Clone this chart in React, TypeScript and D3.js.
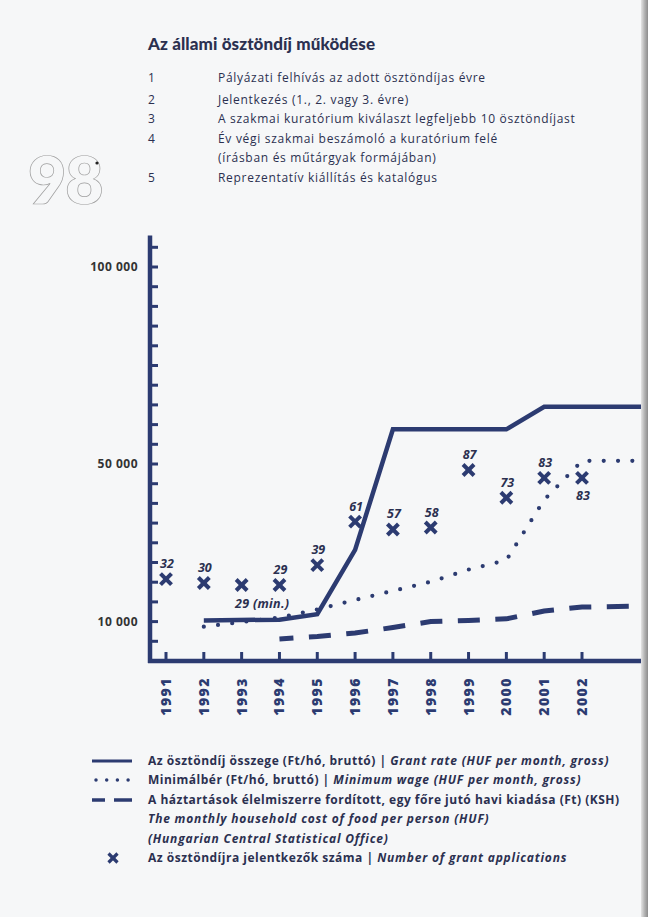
import React from 'react';
import * as d3 from 'd3';

const NAVY = '#2c3b71';
const TEXT = '#2b3050';
const FONT = '"Open Sans", Lato, sans-serif';

const title = 'Az állami ösztöndíj működése';
const steps = [
  ['1', 'Pályázati felhívás az adott ösztöndíjas évre'],
  ['2', 'Jelentkezés (1., 2. vagy 3. évre)'],
  ['3', 'A szakmai kuratórium kiválaszt legfeljebb 10 ösztöndíjast'],
  ['4', 'Év végi szakmai beszámoló a kuratórium felé'],
  ['', '(írásban és műtárgyak formájában)'],
  ['5', 'Reprezentatív kiállítás és katalógus'],
];

const years = [1991, 1992, 1993, 1994, 1995, 1996, 1997, 1998, 1999, 2000, 2001, 2002];
const yTickLabels = [10000, 50000, 100000];

const grantYears = [1992, 1994, 1995, 1996, 1997, 2000, 2001, 2004];
const grantValues = [10300, 10500, 11900, 28200, 58800, 58800, 64500, 64500];

const wageYears = [1992, 1993, 1994, 1995, 1996, 1997, 1998, 1999, 2000, 2001, 2002, 2004];
const wageValues = [8700, 9900, 11000, 13100, 15500, 17800, 20100, 23200, 25600, 40900, 50800, 50800];

const foodYears = [1994, 1995, 1996, 1997, 1998, 1999, 2000, 2001, 2002, 2004];
const foodValues = [5600, 6200, 7100, 8500, 10000, 10300, 10700, 12700, 13700, 14000];

const applications = [32, 30, 29, 29, 39, 61, 57, 58, 87, 73, 83, 83];
const appLabels = ['32', '30', '29 (min.)', '29', '39', '61', '57', '58', '87', '73', '83', '83'];
const labelBelow = [false, false, true, false, false, false, false, false, false, false, false, true];

const legendRows = [
  { hu: 'Az ösztöndíj összege (Ft/hó, bruttó) | ', en: 'Grant rate (HUF per month, gross)' },
  { hu: 'Minimálbér (Ft/hó, bruttó) | ', en: 'Minimum wage (HUF per month, gross)' },
  { hu: 'A háztartások élelmiszerre fordított, egy főre jutó havi kiadása (Ft) (KSH)', en: '' },
  { hu: '', en: 'The monthly household cost of food per person (HUF)' },
  { hu: '', en: '(Hungarian Central Statistical Office)' },
  { hu: 'Az ösztöndíjra jelentkezők száma | ', en: 'Number of grant applications' },
];

export default function App() {
  const x = d3.scaleLinear().domain([1991, 2002]).range([166, 582]);
  const y = d3.scaleLinear().domain([0, 100000]).range([661, 267]);
  const yApp = d3.scaleLinear().domain([29, 87]).range([585, 470]);

  const line = d3.line<[number, number]>().x(d => x(d[0])).y(d => y(d[1]));
  const grantPath = line(grantYears.map((yr, i) => [yr, grantValues[i]]) as [number, number][]) || '';
  const wagePath = line(wageYears.map((yr, i) => [yr, wageValues[i]]) as [number, number][]) || '';
  const foodPath = line(foodYears.map((yr, i) => [yr, foodValues[i]]) as [number, number][]) || '';

  const minorTicks = d3.range(5000, 105001, 5000);
  const axisLeft = 150;
  const axisBottom = y(0);
  const axisTop = y(108000);

  const xMark = (cx: number, cy: number, s: number, w: number, key: string) => (
    <g key={key} stroke={NAVY} strokeWidth={w}>
      <line x1={cx - s} y1={cy - s} x2={cx + s} y2={cy + s} />
      <line x1={cx - s} y1={cy + s} x2={cx + s} y2={cy - s} />
    </g>
  );

  const legendY = [761, 780, 800, 819, 839, 858];

  return (
    <svg width={648} height={917} style={{ position: 'absolute', left: 0, top: 0 }} fontFamily={FONT}>
      <defs>
        <clipPath id="plotClip">
          <rect x={0} y={0} width={643} height={917} />
        </clipPath>
        <linearGradient id="edge" x1="0" x2="1" y1="0" y2="0">
          <stop offset="0" stopColor="#e4e4e4" />
          <stop offset="0.5" stopColor="#b4b4b4" />
          <stop offset="1" stopColor="#8c8c8c" />
        </linearGradient>
      </defs>
      <rect x={0} y={0} width={648} height={917} fill="#f6f7f8" />

      {/* title */}
      <text x={148} y={50} fontFamily="Lato, sans-serif" fontSize={17} fontWeight={900} fill={TEXT} letterSpacing={0.1}>{title}</text>

      {/* steps */}
      {steps.map((s, i) => {
        const yy = [82, 104, 123, 143, 162, 182][i];
        return (
          <g key={i} fontSize={12} fill={TEXT} letterSpacing={0.7}>
            <text x={148} y={yy}>{s[0]}</text>
            <text x={218} y={yy}>{s[1]}</text>
          </g>
        );
      })}

      {/* 98 outline */}
      <text x={28} y={204} fontFamily="Lato, sans-serif" fontSize={66} fontWeight={800} fill="none" stroke="#a0a0a0" strokeWidth={0.7} letterSpacing={-1}>98</text>
      <circle cx={97} cy={163} r={1.6} fill="#222" />

      {/* y axis */}
      <line x1={axisLeft} y1={axisTop} x2={axisLeft} y2={axisBottom + 2} stroke={NAVY} strokeWidth={4.5} />
      {minorTicks.map(v => (
        <line key={v} x1={axisLeft} x2={158} y1={y(v)} y2={y(v)} stroke={NAVY} strokeWidth={3} />
      ))}
      {yTickLabels.map(v => (
        <text key={v} x={138} y={y(v) + 4} fontSize={12} fontWeight={700} fill="#333" textAnchor="end" letterSpacing={0.5}>
          {d3.format(',')(v).replace(/,/g, ' ')}
        </text>
      ))}

      {/* x axis */}
      <line x1={axisLeft - 2} x2={643} y1={axisBottom} y2={axisBottom} stroke={NAVY} strokeWidth={4.5} />
      {years.map(yr => (
        <line key={yr} x1={x(yr)} x2={x(yr)} y1={axisBottom} y2={axisBottom - 9} stroke={NAVY} strokeWidth={3} />
      ))}
      {years.map(yr => (
        <text key={yr} transform={`translate(${x(yr) + 5},${677}) rotate(-90)`} fontSize={14} fontWeight={800}
          fill={NAVY} textAnchor="end" letterSpacing={1.5}>{yr}</text>
      ))}

      {/* series */}
      <g clipPath="url(#plotClip)" fill="none">
        <path d={foodPath} stroke={NAVY} strokeWidth={5} strokeDasharray="22 15.5" strokeDashoffset={8} />
        <path d={wagePath} stroke={NAVY} strokeWidth={4.2} strokeDasharray="0 14.3" strokeLinecap="round" />
        <path d={grantPath} stroke={NAVY} strokeWidth={4.5} strokeLinejoin="miter" />
      </g>

      {/* applications */}
      {years.map((yr, i) => xMark(x(yr), yApp(applications[i]), 5.5, 4, 'm' + yr))}
      {years.map((yr, i) => {
        const cx = x(yr);
        const cy = yApp(applications[i]);
        if (i === 2) {
          return <text key={'l' + yr} x={235} y={cy + 23} fontSize={12.5} fontWeight={700} fontStyle="italic" fill={TEXT} letterSpacing={0.3}>{appLabels[i]}</text>;
        }
        return (
          <text key={'l' + yr} x={cx + 1} y={labelBelow[i] ? cy + 22 : cy - 11} fontSize={12.5} fontWeight={700}
            fontStyle="italic" fill={TEXT} textAnchor="middle">{appLabels[i]}</text>
        );
      })}

      {/* legend */}
      <line x1={92} x2={132} y1={legendY[0]} y2={legendY[0]} stroke={NAVY} strokeWidth={3} />
      <line x1={96} x2={132} y1={legendY[1]} y2={legendY[1]} stroke={NAVY} strokeWidth={3.5} strokeDasharray="0 10.7" strokeLinecap="round" />
      <line x1={92} x2={105} y1={legendY[2]} y2={legendY[2]} stroke={NAVY} strokeWidth={3.5} />
      <line x1={114} x2={132} y1={legendY[2]} y2={legendY[2]} stroke={NAVY} strokeWidth={3.5} />
      {xMark(113, legendY[5], 4.5, 3.2, 'legx')}
      {legendRows.map((r, i) => (
        <text key={i} x={148} y={legendY[i] + 4} fontSize={12} fontWeight={700} fill={TEXT}>
          {r.hu && <tspan letterSpacing={0.5}>{r.hu}</tspan>}
          {r.en && <tspan fontStyle="italic" letterSpacing={0.8}>{r.en}</tspan>}
        </text>
      ))}

      {/* binding edge */}
      <rect x={641} y={0} width={7} height={917} fill="url(#edge)" />
    </svg>
  );
}
